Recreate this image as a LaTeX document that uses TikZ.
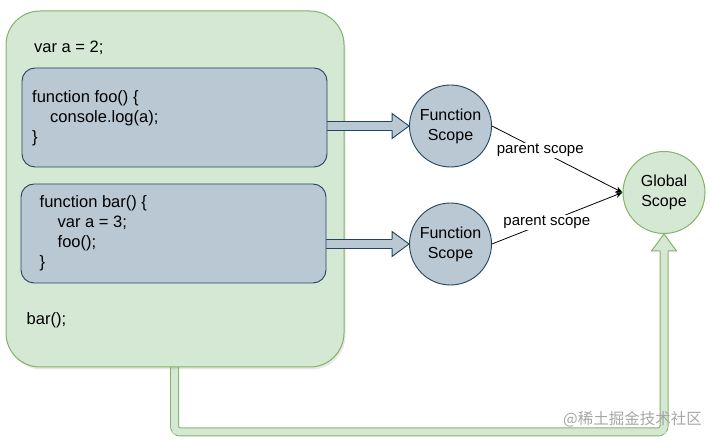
\documentclass[tikz,border=0pt]{standalone}
\usepackage{fontspec}
\setmainfont{Liberation Sans}
\newfontfamily\cjk{Noto Sans CJK SC}
\usetikzlibrary{arrows.meta,calc,shadows}
\definecolor{gfill}{HTML}{D5E8D4}
\definecolor{gline}{HTML}{82B366}
\definecolor{bfill}{HTML}{BAC8D3}
\definecolor{bline}{HTML}{23445D}
\pgfdeclarelayer{lzero}
\pgfdeclarelayer{lone}
\pgfdeclarelayer{ltwo}
\pgfsetlayers{lzero,lone,ltwo,main}
\begin{document}
\begin{tikzpicture}[x=1pt,y=-1pt,
  code/.style={anchor=west, inner sep=0, align=left, font=\fontsize{16.5}{20}\selectfont},
  greenbox/.style={draw=gline, fill=gfill, line width=1pt},
  bluebox/.style={draw=bline, fill=bfill, line width=0.9pt},
  scope/.style={circle, minimum size=82pt, inner sep=0, align=center, font=\fontsize{16}{20}\selectfont},
  lab/.style={fill=white, inner sep=1pt, font=\fontsize{15}{16}\selectfont},
  pline/.style={draw=black, line width=0.8pt, -{Stealth[length=7pt,width=6pt]}}]
\useasboundingbox (0,0) rectangle (713,443);

\begin{pgfonlayer}{lone}
\node[greenbox, rounded corners=34pt, minimum width=338pt, minimum height=356pt,
  drop shadow={shadow xshift=1.5pt, shadow yshift=-2.5pt, opacity=0.18}] (big) at (175,189) {};
\end{pgfonlayer}

\node[bluebox, rounded corners=13pt, minimum width=305pt, minimum height=99pt] (foo) at (174.5,117.5) {};
\node[bluebox, rounded corners=13pt, minimum width=305pt, minimum height=99pt] (bar) at (173.5,233.5) {};

\node[code] (t1) at (34,47.5) {var a = 2;};
\node[code] (t2) at (32,118) {function foo() \{\\\hspace*{18pt}console.log(a);\\\}};
\node[code] (t3) at (39.5,233) {function bar() \{\\\hspace*{18pt}var a = 3;\\\hspace*{18pt}foo();\\\}};
\node[code] (t4) at (26.5,320) {bar();};

\node[scope, bluebox] (fs1) at (450.5,126) {Function\\Scope};
\node[scope, bluebox] (fs2) at (450.5,244) {Function\\Scope};
\node[scope, greenbox] (gs) at (664,192.5) {Global\\Scope};

% blue block arrows
\begin{pgfonlayer}{ltwo}
\foreach \src/\dst in {foo/fs1, bar/fs2}{
  \coordinate (s) at (\src.east |- \dst.west);
  \draw[bline, line width=10pt] (s) -- ($(\dst.west)+(-17,0)$);
  \draw[bfill, line width=8pt] (s) -- ($(\dst.west)+(-16,0)$);
  \fill[bfill] ($(\dst.west)+(-17,-12.5)$) -- (\dst.west) -- ($(\dst.west)+(-17,12.5)$) -- cycle;
  \draw[bline, line width=0.9pt, line join=miter] ($(\dst.west)+(-17,-4.5)$) -- ($(\dst.west)+(-17,-12.5)$) -- (\dst.west) -- ($(\dst.west)+(-17,12.5)$) -- ($(\dst.west)+(-17,4.5)$);
}
\end{pgfonlayer}

% green block arrow
\begin{pgfonlayer}{lzero}
\coordinate (gb) at ($(big.south)+(-0.5,-8)$);
\coordinate (gt) at (gs.south);
\draw[gline, line width=9pt, rounded corners=6pt] (gb) |- ($(gt)+(0,198)$) -- ($(gt)+(0,17)$);
\draw[gfill, line width=7pt, rounded corners=5pt] (gb) |- ($(gt)+(0,198)$) -- ($(gt)+(0,16)$);
\fill[gfill] ($(gt)+(-12.5,17)$) -- (gt) -- ($(gt)+(12.5,17)$) -- cycle;
\draw[gline, line width=1pt] ($(gt)+(-4,17)$) -- ($(gt)+(-12.5,17)$) -- (gt) -- ($(gt)+(12.5,17)$) -- ($(gt)+(4,17)$);
\end{pgfonlayer}

% parent scope connectors
\draw[pline] (fs1.east) -- node[lab, pos=0.37] {parent scope} (gs.west);
\draw[pline] (fs2.east) -- node[lab, pos=0.42] {parent scope} (gs.west);

% watermark
\node[anchor=east, inner sep=0, text=black!35, font=\cjk\fontsize{15.5}{16}\selectfont] (wm) at (702,419) {@稀土掘金技术社区};
\end{tikzpicture}
\end{document}
